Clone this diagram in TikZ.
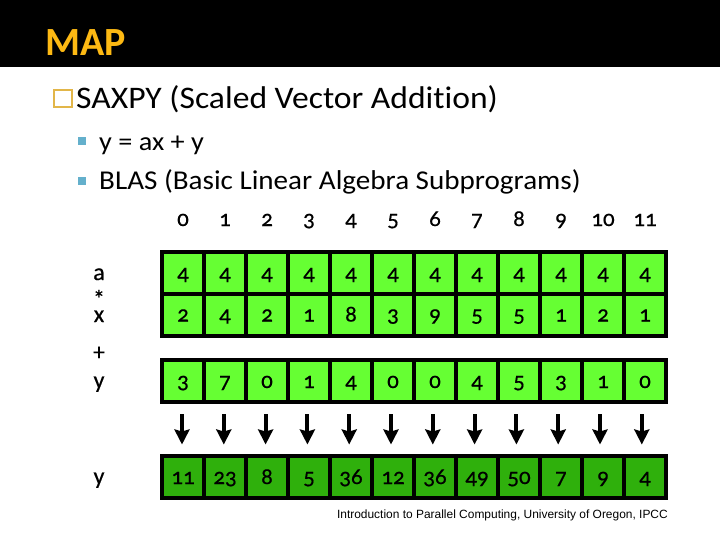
\documentclass[tikz,border=0pt]{standalone}
\usepackage{fontspec}
\usepackage{tikz}
\usetikzlibrary{arrows.meta}
\setmainfont[Numbers=OldStyle]{Carlito}
\newfontfamily\widefont[FakeStretch=1.07,Ligatures=NoCommon]{Carlito}
\newfontfamily\digitfont[Numbers=OldStyle,FakeBold=0.5]{Carlito}
\newfontfamily\footfont{Liberation Sans}
\definecolor{mapgold}{HTML}{FDB913}
\definecolor{boxgold}{HTML}{E2B649}
\definecolor{bulletblue}{HTML}{64B0CC}
\definecolor{celllight}{HTML}{66FF33}
\definecolor{celldark}{HTML}{2FB00C}
\tikzset{
  cell/.style={draw=black,line width=4pt,minimum size=42pt,inner sep=0pt,text height=14pt,text depth=0pt,font=\digitfont\fontsize{23}{23}\selectfont},
  idxlabel/.style={inner sep=0pt,text height=14pt,text depth=0pt,font=\digitfont\fontsize{23}{23}\selectfont},
  rowlabel/.style={anchor=base,inner sep=0pt,font=\digitfont\fontsize{24}{24}\selectfont},
  bullet/.style={fill=bulletblue,minimum size=8pt,inner sep=0pt},
  headline/.style={anchor=base west,inner sep=0pt,font=\widefont\fontsize{31.4}{32}\selectfont},
  subline/.style={anchor=base west,inner sep=0pt,font=\widefont\fontsize{27.2}{28}\selectfont},
}
\begin{document}
\begin{tikzpicture}[x=1pt,y=-1pt]
\useasboundingbox (0,0) rectangle (720,540);
\fill[black] (0,0) rectangle (720,67);
\node[anchor=base west,inner sep=0pt,text=mapgold,font=\fontsize{40}{40}\selectfont\bfseries] (title) at (45,56) {MAP};
\node[draw=boxgold,line width=2pt,minimum width=18pt,minimum height=17pt,inner sep=0pt] (headbox) at (63,99) {};
\node[headline] (head) at (76,109) {SAXPY (Scaled Vector Addition)};
\node[bullet] (bullet1) at (82,141) {};
\node[subline,font=\widefont\fontsize{26.4}{28}\selectfont] (sub1) at (99,151) {y = ax + y};
\node[bullet] (bullet2) at (82,181) {};
\node[subline] (sub2) at (99,190) {BLAS (Basic Linear Algebra Subprograms)};
% rows of the vectors
\foreach \i/\a/\b/\c/\d in {0/2/3/11/0,1/4/7/23/1,2/2/0/8/2,3/1/1/5/3,4/8/4/36/4,5/3/0/12/5,6/9/0/36/6,7/5/4/49/7,8/5/5/50/8,9/1/3/7/9,10/2/1/9/10,11/1/0/4/11}{
  \pgfmathsetmacro{\xpos}{183+42*\i}
  \node[idxlabel] (n\i) at (\xpos,219) {\d};
  \node[cell,fill=celllight] (a\i) at (\xpos,273) {4};
  \node[cell,fill=celllight] (x\i) at (\xpos,314.5) {\a};
  \node[cell,fill=celllight] (y\i) at (\xpos,381) {\b};
  \node[cell,fill=celldark] (r\i) at (\xpos,477) {\c};
  \pgfmathsetmacro{\dx}{-1-0.2*\i}
  \draw[line width=4pt,-{Stealth[width=15pt,length=15pt,inset=2pt]},shorten <=10pt,shorten >=9.5pt] ([xshift=\dx pt]y\i.south) -- ([xshift=\dx pt]r\i.north);
}
\node[rowlabel] (la) at (99,280) {a};
\node[rowlabel] (lstar) at (99,307) {*};
\node[rowlabel] (lx) at (99,322) {x};
\node[rowlabel] (lplus) at (99,360) {+};
\node[rowlabel] (ly) at (99,388) {y};
\node[rowlabel] (lr) at (99,484) {y};
\node[anchor=base east,inner sep=0pt,font=\footfont\fontsize{11.95}{12}\selectfont] (foot) at (668,518) {Introduction to Parallel Computing, University of Oregon, IPCC};
\end{tikzpicture}
\end{document}
